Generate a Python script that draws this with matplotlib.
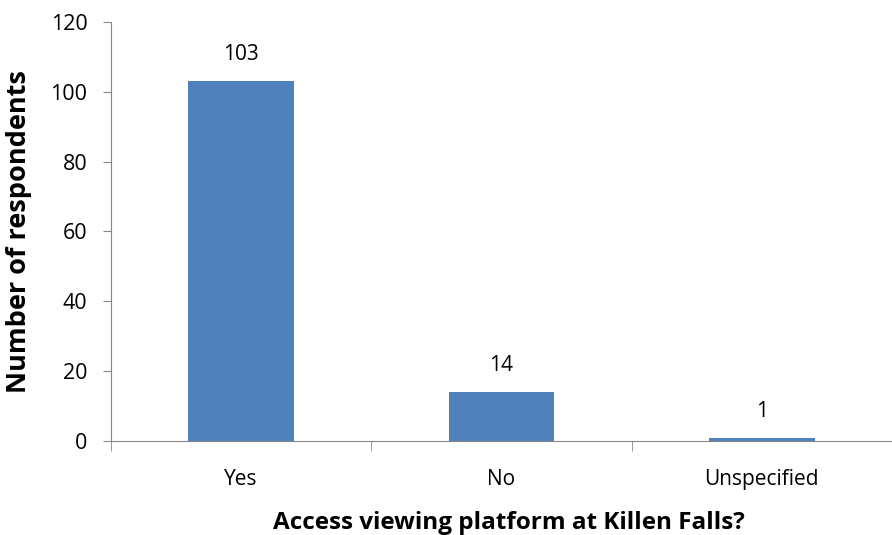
import matplotlib.pyplot as plt
import numpy as np

categories = ["Yes", "No", "Unspecified"]
respondents = [103, 14, 1]
y_ticks = [0, 20, 40, 60, 80, 100, 120]

plt.rcParams['font.family'] = ['Open Sans', 'DejaVu Sans']

fig = plt.figure(figsize=(8.92, 5.35), dpi=100)
ax = fig.add_axes([0.1244, 0.1757, 0.8756, 0.7832])

x = np.arange(len(categories))
ax.bar(x, respondents, width=0.405, color="#4F81BD", zorder=2)
for xi, v in zip(x, respondents):
    ax.annotate(str(v), (xi, v), xytext=(0, 19), textcoords="offset points",
                ha="center", va="center", fontsize=15)

ax.set_xlim(-0.5, len(categories) - 0.5)
ax.set_ylim(0, 120)
ax.set_yticks(y_ticks)
ax.tick_params(axis="y", labelsize=15.5, length=6, color="#868686", pad=11)
ax.set_xticks(x)
ax.set_xticklabels(categories, fontsize=15)
ax.tick_params(axis="x", length=0, pad=20)
ax.set_xticks(np.arange(-0.5, len(categories)), minor=True)
ax.tick_params(axis="x", which="minor", length=7, color="#868686")

for s in ["top", "right"]:
    ax.spines[s].set_visible(False)
for s in ["left", "bottom"]:
    ax.spines[s].set_color("#868686")

ax.set_ylabel("Number of respondents", fontsize=19.5, fontweight="bold")
ax.yaxis.set_label_coords(-0.101, 0.5)
ax.set_xlabel("Access viewing platform at Killen Falls?", fontsize=17.5, fontweight="bold")
ax.xaxis.set_label_coords(0.51, -0.168)

fig.savefig("out.png", dpi=100)
